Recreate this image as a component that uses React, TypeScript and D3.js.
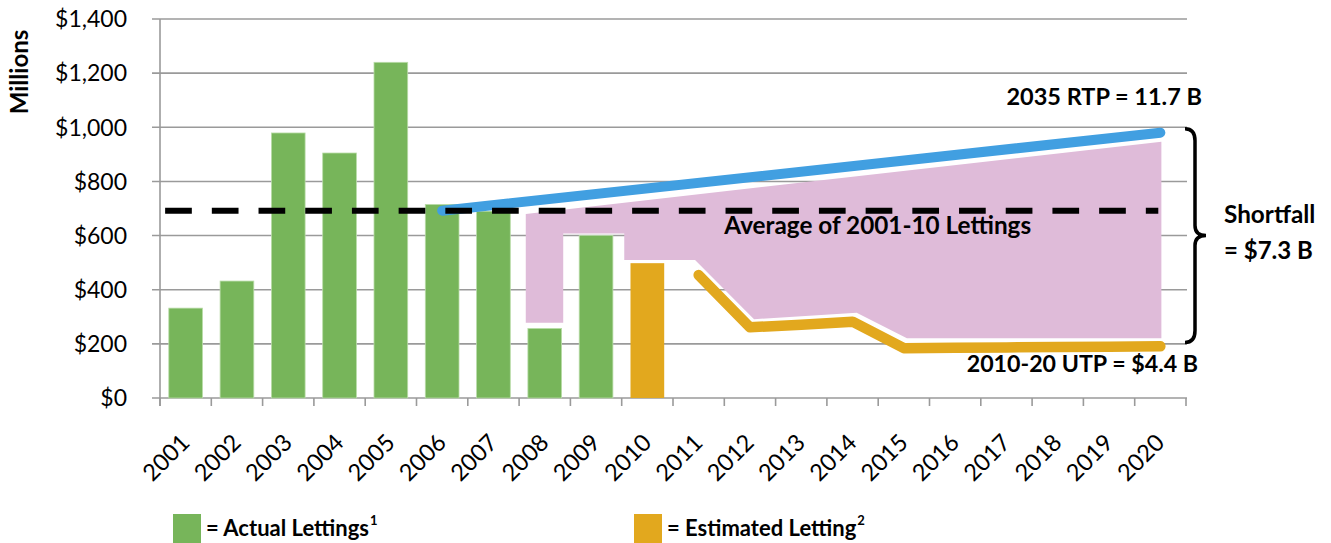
import React, { useEffect, useRef } from 'react';
import * as d3 from 'd3';

// categories on the x axis
const years = ['2001', '2002', '2003', '2004', '2005', '2006', '2007', '2008', '2009', '2010',
  '2011', '2012', '2013', '2014', '2015', '2016', '2017', '2018', '2019', '2020'];

// actual lettings (green bars), $ millions
const actualYears = ['2001', '2002', '2003', '2004', '2005', '2006', '2007', '2008', '2009'];
const actualValues = [332, 432, 979, 905, 1240, 715, 690, 257, 600];

// estimated letting (orange bar)
const estimatedYears = ['2010'];
const estimatedValues = [498];

// 2035 RTP line (blue)
const rtpYears = ['2006', '2020'];
const rtpValues = [692, 980];

// 2010-20 UTP line (orange)
const utpYears = ['2011', '2012', '2013', '2014', '2015', '2016', '2017', '2018', '2019', '2020'];
const utpValues = [454, 261, 271, 282, 184, 186, 187, 188, 189, 191];

// average of 2001-10 lettings (dashed)
const avgValue = 692;
const avgSpan = [2000.6, 2019.96];

// shortfall area (pink), positions in year units
const shortfallTopPos = [2007.63, 2020.02];
const shortfallTopValues = [680, 947];
const shortfallBottomPos = [2007.63, 2008.36, 2008.36, 2009.55, 2009.55, 2010.93, 2012.08, 2014.08, 2015.06, 2020.02];
const shortfallBottomValues = [278, 278, 608, 608, 510, 510, 291, 315, 221, 221];

const yTicks = [0, 200, 400, 600, 800, 1000, 1200, 1400];

const GREEN = '#77b55a';
const ORANGE = '#e2a81e';
const BLUE = '#419fe1';
const PINK = '#dfbbd9';
const GRID = '#9a9a9a';
const FONT = 'Lato, "Open Sans", sans-serif';

const App: React.FC = () => {
  const svgRef = useRef<SVGSVGElement>(null);
  const width = 1331;
  const height = 543;

  useEffect(() => {
    document.body.style.margin = '0';
    if (!svgRef.current) return;
    const svg = d3.select(svgRef.current);
    svg.selectAll('*').remove();

    const left = 160, right = 1186, top = 19, bottom = 398;

    const xBand = d3.scaleBand<string>()
      .domain(years)
      .range([left, right])
      .paddingInner(0.343)
      .paddingOuter(0.1715);
    const step = xBand.step();
    const xPos = d3.scaleLinear().domain([2000.5, 2020.5]).range([left, right]);
    const xc = (yr: string) => xPos(+yr);
    const y = d3.scaleLinear().domain([0, 1400]).range([bottom, top]);

    // gridlines + y ticks
    const grid = svg.append('g');
    yTicks.forEach(t => {
      grid.append('line')
        .attr('x1', left - 8).attr('x2', right + 1)
        .attr('y1', y(t)).attr('y2', y(t))
        .attr('stroke', GRID).attr('stroke-width', 1.6);
      grid.append('text')
        .attr('x', 127).attr('y', y(t))
        .attr('dy', '0.36em')
        .attr('text-anchor', 'end')
        .attr('font-family', FONT)
        .attr('font-size', 23)
        .attr('fill', '#000')
        .text(`$${d3.format(',')(t)}`);
    });
    // y axis line
    grid.append('line')
      .attr('x1', left).attr('x2', left)
      .attr('y1', y(1400)).attr('y2', bottom + 8)
      .attr('stroke', GRID).attr('stroke-width', 1.6);
    // x ticks
    d3.range(years.length + 1).forEach(i => {
      grid.append('line')
        .attr('x1', left + i * step).attr('x2', left + i * step)
        .attr('y1', bottom).attr('y2', bottom + 8)
        .attr('stroke', GRID).attr('stroke-width', 1.6);
    });

    // shortfall area
    const shortfallPts: [number, number][] = [
      ...shortfallTopPos.map((p, i) => [p, shortfallTopValues[i]] as [number, number]),
      ...shortfallBottomPos.map((p, i) => [p, shortfallBottomValues[i]] as [number, number]).reverse(),
    ];
    svg.append('path')
      .attr('d', d3.line<[number, number]>().x(d => xPos(d[0])).y(d => y(d[1]))(shortfallPts) + 'Z')
      .attr('fill', PINK);

    // bars
    const bars = svg.append('g');
    actualYears.forEach((yr, i) => {
      bars.append('rect')
        .attr('x', xBand(yr)!)
        .attr('y', y(actualValues[i]))
        .attr('width', xBand.bandwidth())
        .attr('height', bottom - y(actualValues[i]))
        .attr('fill', GREEN)
        .attr('stroke', '#b9dca8')
        .attr('stroke-width', 0.8);
    });
    estimatedYears.forEach((yr, i) => {
      bars.append('rect')
        .attr('x', xBand(yr)!)
        .attr('y', y(estimatedValues[i]))
        .attr('width', xBand.bandwidth())
        .attr('height', bottom - y(estimatedValues[i]))
        .attr('fill', ORANGE);
    });

    // blue RTP line
    const line = d3.line<[number, number]>().x(d => d[0]).y(d => d[1]);
    svg.append('path')
      .attr('d', line(rtpYears.map((yr, i) => [xc(yr), y(rtpValues[i])])))
      .attr('fill', 'none')
      .attr('stroke', BLUE)
      .attr('stroke-width', 10)
      .attr('stroke-linecap', 'round');

    // average dashed line
    svg.append('line')
      .attr('x1', xPos(avgSpan[0])).attr('x2', xPos(avgSpan[1]))
      .attr('y1', y(avgValue)).attr('y2', y(avgValue))
      .attr('stroke', '#000')
      .attr('stroke-width', 6)
      .attr('stroke-dasharray', '26.7,20');

    // orange UTP line
    svg.append('path')
      .attr('d', line(utpYears.map((yr, i) => [xc(yr), y(utpValues[i])])))
      .attr('fill', 'none')
      .attr('stroke', ORANGE)
      .attr('stroke-width', 10.5)
      .attr('stroke-linecap', 'round')
      .attr('stroke-linejoin', 'round');

    // x labels
    years.forEach(yr => {
      svg.append('text')
        .attr('transform', `translate(${xc(yr) + 5.5},${bottom + 46}) rotate(-45)`)
        .attr('text-anchor', 'end')
        .attr('font-family', FONT)
        .attr('font-size', 23.5)
        .attr('fill', '#000')
        .text(yr);
    });

    // y axis title
    svg.append('text')
      .attr('transform', `translate(28,72) rotate(-90)`)
      .attr('text-anchor', 'middle')
      .attr('font-family', FONT)
      .attr('font-weight', 'bold')
      .attr('font-size', 24)
      .attr('fill', '#000')
      .text('Millions');

    // annotations
    const bold = (x: number, yy: number, txt: string, anchor = 'start', size = 23) =>
      svg.append('text')
        .attr('x', x).attr('y', yy)
        .attr('text-anchor', anchor)
        .attr('font-family', FONT)
        .attr('font-weight', 'bold')
        .attr('font-size', size)
        .attr('fill', '#000')
        .text(txt);

    bold(xPos(2011.5), y(avgValue) + 23, 'Average of 2001-10 Lettings', 'start', 24.3);
    bold(1202, 105, '2035 RTP = 11.7 B', 'end', 23.5);
    bold(1198, 372, '2010-20 UTP = $4.4 B', 'end', 23.2);
    bold(1224, 223, 'Shortfall', 'start', 24.3);
    bold(1224, 259, '= $7.3 B', 'start', 24);

    // brace
    const bt = y(995), bb = y(205), bm = (bt + bb) / 2;
    const bx = 1185, bv = 1195, btip = 1206;
    svg.append('path')
      .attr('d', `M${bx},${bt} Q${bv},${bt} ${bv},${bt + 12} L${bv},${bm - 10} Q${bv},${bm} ${btip},${bm} ` +
        `Q${bv},${bm} ${bv},${bm + 10} L${bv},${bb - 12} Q${bv},${bb} ${bx},${bb}`)
      .attr('fill', 'none')
      .attr('stroke', '#000')
      .attr('stroke-width', 3.5);

    // legend
    const legend = [
      { x: 173, color: GREEN, label: '= Actual Lettings', sup: '1' },
      { x: 634, color: ORANGE, label: '= Estimated Letting', sup: '2' },
    ];
    legend.forEach(l => {
      svg.append('rect')
        .attr('x', l.x).attr('y', 514)
        .attr('width', 28).attr('height', 30)
        .attr('fill', l.color);
      const t = svg.append('text')
        .attr('x', l.x + 33).attr('y', 536)
        .attr('font-family', FONT)
        .attr('font-weight', 'bold')
        .attr('font-size', 22)
        .attr('fill', '#000')
        .text(l.label);
      t.append('tspan')
        .attr('dx', 1).attr('dy', -11)
        .attr('font-size', 13)
        .text(l.sup);
    });
  }, []);

  return <svg ref={svgRef} width={width} height={height} style={{ display: 'block', background: '#fff' }} />;
};

export default App;
